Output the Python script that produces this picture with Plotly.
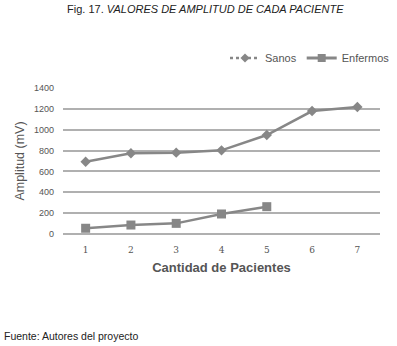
import plotly.graph_objects as go

pacientes = [1, 2, 3, 4, 5, 6, 7]
sanos = [693, 774, 780, 802, 949, 1179, 1218]
pacientes_enf = [1, 2, 3, 4, 5]
enfermos = [55, 86, 102, 192, 262]
y_ticks = [0, 200, 400, 600, 800, 1000, 1200, 1400]

W, H = 397, 346
L, R, T, B = 63, 17, 88, 112
gray = "#878787"
fig = go.Figure()
fig.add_trace(go.Scatter(x=pacientes, y=sanos, mode="lines+markers", showlegend=False,
                         line=dict(color=gray, width=2.5),
                         marker=dict(symbol="diamond", size=8, color=gray), cliponaxis=False))
fig.add_trace(go.Scatter(x=pacientes_enf, y=enfermos, mode="lines+markers", showlegend=False,
                         line=dict(color=gray, width=2.5),
                         marker=dict(symbol="square", size=9, color=gray), cliponaxis=False))
# legend entries
fig.add_trace(go.Scatter(x=[None], y=[None], mode="lines+markers", name="Sanos",
                         line=dict(color=gray, width=2.5, dash="dot"),
                         marker=dict(symbol="diamond", size=7, color=gray)))
fig.add_trace(go.Scatter(x=[None], y=[None], mode="lines+markers", name="Enfermos",
                         line=dict(color=gray, width=3),
                         marker=dict(symbol="square", size=8, color=gray)))

fig.update_layout(
    width=W, height=H,
    margin=dict(l=L, r=R, t=T, b=B, autoexpand=False),
    paper_bgcolor="white", plot_bgcolor="white",
    font=dict(family="Liberation Sans, Arial, sans-serif", color="#444"),
    showlegend=True,
    legend=dict(orientation="h", xref="container", yref="container",
                x=0.995, xanchor="right", y=1 - 58 / H, yanchor="middle",
                font=dict(family="Liberation Sans Narrow, Liberation Sans, sans-serif", size=11, color="#555"),
                itemwidth=30, traceorder="normal"),
    xaxis=dict(range=[0.5, 7.5], tickvals=pacientes, ticktext=[str(p) for p in pacientes],
               showgrid=False, zeroline=False, showline=False, ticks="", automargin=False,
               ticklabelstandoff=9,
               tickfont=dict(size=9, color="#555", family="DejaVu Serif, serif"),
               title=dict(text="<b>Cantidad de Pacientes</b>", font=dict(size=13, color="#555"), standoff=8)),
    yaxis=dict(range=[0, 1400], tickvals=y_ticks, showgrid=True, gridcolor="#b0b0b0", gridwidth=1.5,
               zeroline=True, zerolinecolor="#b0b0b0", zerolinewidth=1.5, ticks="", automargin=False,
               ticklabelstandoff=8,
               tickfont=dict(size=9, color="#555"),
               title=dict(text="Amplitud (mV)", font=dict(size=12.5, color="#555"), standoff=6)),
)
fig.add_annotation(text="Fig. 17. <i>VALORES DE AMPLITUD DE CADA PACIENTE</i>",
                   xref="paper", yref="paper", x=(205 - L) / (W - L - R), y=(H - B - 9) / (H - T - B),
                   xanchor="center", yanchor="middle",
                   showarrow=False, font=dict(size=11, color="#222"))
fig.add_annotation(text="Fuente: Autores del proyecto", xref="paper", yref="paper",
                   x=(2 - L) / (W - L - R), xanchor="left", y=(H - B - 336) / (H - T - B), yanchor="middle",
                   showarrow=False, font=dict(size=10.5, color="#222"))
fig.write_html("out.html", config={"displayModeBar": False},
               post_script="document.body.style.margin='0';")
